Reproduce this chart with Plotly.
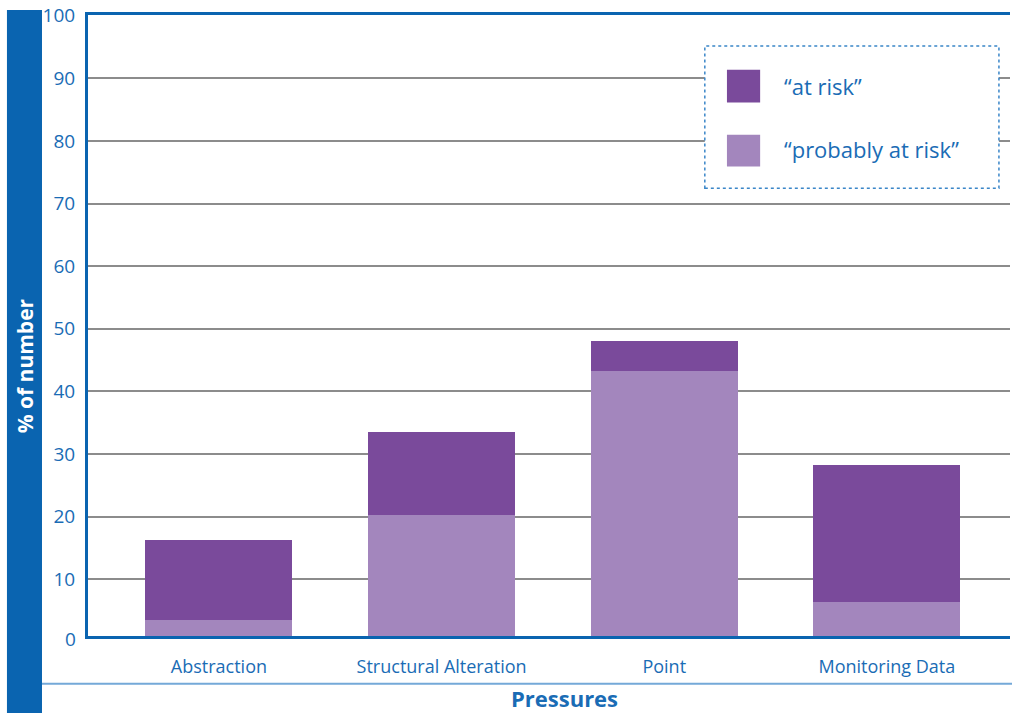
import plotly.graph_objects as go

categories = ["Abstraction", "Structural Alteration", "Point", "Monitoring Data"]
probably_at_risk = [3.5, 20.3, 43.2, 6.3]
at_risk = [12.8, 13.2, 4.9, 22.0]
y_ticks = [10, 20, 30, 40, 50, 60, 70, 80, 90, 100]

BLUE = "#0a64b0"
TEXT_BLUE = "#1a6cb5"
DARK = "#7a4a9b"
LIGHT = "#a386bd"

x_pos = list(range(len(categories)))

fig = go.Figure()
fig.add_trace(go.Bar(x=x_pos, y=probably_at_risk, name="\u201cprobably at risk\u201d",
                     marker=dict(color=LIGHT, line=dict(width=0)), width=0.66, showlegend=False))
fig.add_trace(go.Bar(x=x_pos, y=at_risk, name="\u201cat risk\u201d",
                     marker=dict(color=DARK, line=dict(width=0)), width=0.66, showlegend=False))

shapes = [
    # blue band on the left
    dict(type="rect", xref="paper", yref="paper", x0=-0.0879, x1=-0.0499, y0=-0.14, y1=1.008,
         fillcolor=BLUE, line=dict(width=0), layer="below"),
    # bottom separator line
    dict(type="line", xref="paper", yref="paper", x0=-0.0499, x1=1.01, y0=-0.077, y1=-0.077,
         line=dict(color="#74a9d8", width=2)),
    # legend box
    dict(type="rect", xref="paper", yref="paper", x0=0.669, x1=0.988, y0=0.721, y1=0.950,
         fillcolor="white", line=dict(color="#3a86c8", width=1.5, dash="dot"), layer="above"),
    dict(type="rect", xref="paper", yref="paper", x0=0.693, x1=0.729, y0=0.859, y1=0.912,
         fillcolor=DARK, line=dict(width=0), layer="above"),
    dict(type="rect", xref="paper", yref="paper", x0=0.693, x1=0.729, y0=0.756, y1=0.807,
         fillcolor=LIGHT, line=dict(width=0), layer="above"),
]

annotations = [
    dict(text="% of number", xref="paper", yref="paper", x=-0.0689, y=0.435, textangle=-90,
         xanchor="center", yanchor="middle", showarrow=False,
         font=dict(color="white", size=21, family="Open Sans", weight="bold")),
    dict(text="Pressures", xref="paper", yref="paper", x=0.517, y=-0.0995,
         xanchor="center", yanchor="middle", showarrow=False,
         font=dict(color=TEXT_BLUE, size=22, family="Open Sans", weight="bold")),
    dict(text="0", xref="paper", yref="paper", x=-0.011, y=-0.005, xanchor="right", yanchor="middle",
         showarrow=False, font=dict(color=TEXT_BLUE, size=19, family="Open Sans")),
    dict(text="\u201cat risk\u201d", xref="paper", yref="paper", x=0.753, y=0.886, xanchor="left",
         yanchor="middle", showarrow=False, font=dict(color=TEXT_BLUE, size=22, family="Open Sans")),
    dict(text="\u201cprobably at risk\u201d", xref="paper", yref="paper", x=0.753, y=0.784, xanchor="left",
         yanchor="middle", showarrow=False, font=dict(color=TEXT_BLUE, size=22, family="Open Sans")),
]

fig.update_layout(
    barmode="stack",
    width=1012, height=713,
    margin=dict(l=88, r=2, t=13, b=77),
    plot_bgcolor="white", paper_bgcolor="white",
    font=dict(family="Open Sans", color=TEXT_BLUE),
    shapes=shapes,
    annotations=annotations,
    xaxis=dict(
        tickvals=x_pos, ticktext=categories, range=[-0.588, 3.553],
        showline=True, linecolor=BLUE, linewidth=3, mirror=True,
        showgrid=False, ticks="", ticklabelstandoff=12,
        tickfont=dict(size=18, color=TEXT_BLUE),
    ),
    yaxis=dict(
        range=[0.95, 100.1], tickvals=y_ticks,
        showline=True, linecolor=BLUE, linewidth=3,
        showgrid=True, gridcolor="#8c8c8c", gridwidth=1.5,
        zeroline=False, ticks="", ticklabelstandoff=6,
        tickfont=dict(size=19, color=TEXT_BLUE),
    ),
)

fig.write_html(
    "out.html",
    config={"responsive": False, "displayModeBar": False},
    post_script="document.body.style.margin='0';document.body.style.overflow='hidden';",
)
